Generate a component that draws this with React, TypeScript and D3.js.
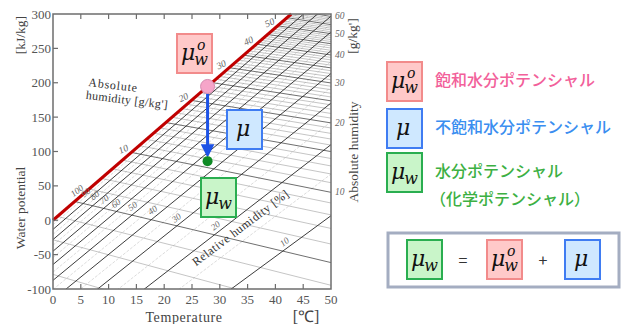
import * as d3 from "d3";

const W = 622;
const H = 324;

// axes
const tempTicks = [0, 5, 10, 15, 20, 25, 30, 35, 40, 45, 50];
const potentialTicks = [-100, -50, 0, 50, 100, 150, 200, 250, 300];
const satSlope = 7; // kJ/kg per degC along the saturation line

// absolute humidity lines [g/kg'] : dew point (start on red line) and value at 50 degC
const ahGrams = [2, 3, 4, 5, 6, 7, 8, 9, 10, 11, 12, 13, 14, 15, 16, 17, 18, 19, 20, 21, 22, 23, 24, 25, 26, 27, 28, 29, 30, 31, 32, 33, 34, 35, 36, 37, 38, 39, 40, 41, 42, 43, 44, 45, 46, 47, 48, 49, 50, 51, 52, 53, 54, 55, 56, 57, 58, 59, 60];
const ahDewPoint = [-8.4, -3.1, 0.8, 3.9, 6.5, 8.7, 10.7, 12.5, 14.1, 15.5, 16.8, 18.1, 19.2, 20.3, 21.4, 22.3, 23.2, 24.1, 24.9, 25.7, 26.5, 27.2, 27.9, 28.6, 29.3, 29.9, 30.5, 31.1, 31.7, 32.2, 32.7, 33.3, 33.8, 34.3, 34.7, 35.2, 35.7, 36.1, 36.6, 37.0, 37.4, 37.8, 38.2, 38.6, 39.0, 39.3, 39.7, 40.1, 40.4, 40.8, 41.1, 41.4, 41.8, 42.1, 42.4, 42.7, 43.0, 43.3, 43.6];
const ahRightEnd = [-197.5, -137.3, -94.6, -61.6, -34.6, -11.9, 7.8, 25.1, 40.6, 54.6, 67.3, 79.0, 89.8, 99.9, 109.3, 118.1, 126.3, 134.2, 141.6, 148.6, 155.3, 161.7, 167.9, 173.7, 179.3, 184.7, 189.9, 194.9, 199.7, 204.4, 208.9, 213.3, 217.5, 221.6, 225.6, 229.4, 233.2, 236.8, 240.4, 243.8, 247.2, 250.5, 253.7, 256.8, 259.9, 262.8, 265.8, 268.6, 271.4, 274.1, 276.8, 279.4, 282.0, 284.5, 287.0, 289.4, 291.8, 294.1, 296.4];
const ahSatLabels = [10, 20, 30, 40, 50];
const ahAxisLabels = [10, 20, 30, 40, 50, 60];

// relative humidity lines [%] : value at 0 degC and at 50 degC
const rhMain = [90, 80, 70, 60, 50, 40, 30, 20, 10];
const rhMainAt0 = [-13.3, -28.1, -45.0, -64.4, -87.4, -115.5, -151.8, -202.9, -290.3];
const rhMainAt50 = [334.3, 316.7, 296.8, 273.8, 246.6, 213.4, 170.5, 110.0, 6.6];
const rhFine = [95, 85, 75, 65, 55, 45, 35, 25, 15];
const rhFineAt0 = [-6.5, -20.5, -36.3, -54.3, -75.4, -100.7, -132.3, -174.8, -239.2];
const rhFineAt50 = [342.4, 325.8, 307.1, 285.8, 260.8, 230.9, 193.4, 143.3, 67.1];
const rhLabels = ["100", "90", "80", "70", "60", "50", "40", "30", "20", "10"];
const rhLabelTemp = [5.0, 6.6, 8.2, 9.9, 12.0, 15.0, 18.6, 22.9, 29.9, 42.3];

// state points
const pointTemp = 27.8;
const waterPotential = 86;

const legendNames = ["飽和水分ポテンシャル", "不飽和水分ポテンシャル", "水分ポテンシャル"];
const legendNote = "（化学ポテンシャル）";

const boxStyle: Record<string, { fill: string; stroke: string }> = {
  o: { fill: "#ffc9c9", stroke: "#f28b8b" },
  m: { fill: "#cfe8ff", stroke: "#3f7cf2" },
  w: { fill: "#c9f5c9", stroke: "#2aae50" },
};
const legendColors = ["#f2609a", "#3a8ef0", "#3cb043"];

const MATH = "'DejaVu Serif', serif";
const SERIF = "'Liberation Serif', 'Times New Roman', serif";
const CJK = "'Noto Sans CJK JP', sans-serif";

function MuBox({ x0, y0, kind }: { x0: number; y0: number; kind: string }) {
  const st = boxStyle[kind];
  return (
    <g>
      <rect x={x0} y={y0} width={35} height={39} fill={st.fill} stroke={st.stroke} strokeWidth={2} />
      <text x={kind === "m" ? x0 + 9 : x0 + 4} y={y0 + 26} fontFamily={MATH} fontStyle="italic" fontSize={22} fill="#111">
        μ
        {kind !== "m" && (
          <tspan fontSize={16} dx={-1} dy={5}>
            w
          </tspan>
        )}
        {kind === "o" && (
          <tspan fontSize={14} dx={-11} dy={-15}>
            o
          </tspan>
        )}
      </text>
    </g>
  );
}

export default function App() {
  const x = d3.scaleLinear().domain([0, 50]).range([53, 331]);
  const y = d3.scaleLinear().domain([-100, 300]).range([289, 14]);
  const line = d3
    .line<[number, number]>()
    .x((d) => x(d[0]))
    .y((d) => y(d[1]));

  const sat300 = 300 / satSlope;
  const clipPts = [
    [0, 0],
    [sat300, 300],
    [50, 300],
    [50, -100],
    [0, -100],
  ]
    .map(([t, m]) => `${x(t)},${y(m)}`)
    .join(" ");

  const px = x(pointTemp);
  const pinkY = y(pointTemp * satSlope);
  const greenY = y(waterPotential);
  const axisCol = "#6d6d6d";

  return (
    <svg width={W} height={H} style={{ position: "absolute", left: 0, top: 0, background: "#fff" }}>
      <defs>
        <clipPath id="unsat">
          <polygon points={clipPts} />
        </clipPath>
        <marker id="arrowhead" viewBox="0 0 10 10" refX={8} refY={5} markerWidth={4.5} markerHeight={4.5} orient="auto">
          <path d="M0,0 L10,5 L0,10 z" fill="#1d52e6" />
        </marker>
      </defs>

      {/* grid */}
      <g clipPath="url(#unsat)" fill="none">
        {rhFine.map((rh, i) => (
          <path key={"rf" + rh} d={line([[0, rhFineAt0[i]], [50, rhFineAt50[i]]]) || ""} stroke="#b8b8b8" strokeWidth={0.5} strokeDasharray="3,1.5" />
        ))}
        {ahGrams.map((g, i) => (
          <path
            key={"ah" + g}
            d={line([[ahDewPoint[i], ahDewPoint[i] * satSlope], [50, ahRightEnd[i]]]) || ""}
            stroke={g % 5 === 0 ? "#4a4a4a" : "#8a8a8a"}
            strokeWidth={g % 5 === 0 ? 0.8 : 0.5}
          />
        ))}
        {rhMain.map((rh, i) => (
          <path key={"rm" + rh} d={line([[0, rhMainAt0[i]], [50, rhMainAt50[i]]]) || ""} stroke="#262626" strokeWidth={0.9} />
        ))}
      </g>

      {/* saturation line */}
      <path d={line([[0, 0], [sat300, 300]]) || ""} stroke="#c00000" strokeWidth={3} fill="none" />

      {/* frame */}
      <rect x={x(0)} y={y(300)} width={x(50) - x(0)} height={y(-100) - y(300)} fill="none" stroke={axisCol} strokeWidth={1.5} />
      {tempTicks.slice(1, -1).map((t) => (
        <g key={"tt" + t} stroke={axisCol} strokeWidth={1.2}>
          <line x1={x(t)} x2={x(t)} y1={y(300)} y2={y(300) + 5} />
          <line x1={x(t)} x2={x(t)} y1={y(-100)} y2={y(-100) - 5} />
        </g>
      ))}
      {potentialTicks.slice(1, -1).map((v) => (
        <line key={"pt" + v} x1={x(0)} x2={x(0) + 5} y1={y(v)} y2={y(v)} stroke={axisCol} strokeWidth={1.2} />
      ))}

      {/* tick labels */}
      <g fontFamily={SERIF} fontSize={13} fill="#555">
        {potentialTicks.map((v) => (
          <text key={"pl" + v} x={x(0) - 2} y={y(v)} textAnchor="end" dominantBaseline="central">
            {v}
          </text>
        ))}
        {tempTicks.map((t) => (
          <text key={"tl" + t} x={x(t)} y={y(-100) + 10} textAnchor="middle" dominantBaseline="central">
            {t}
          </text>
        ))}
      </g>
      <g fontFamily={SERIF} fontStyle="italic" fontSize={9.5} fill="#666">
        {ahAxisLabels.map((g) => (
          <text key={"al" + g} x={x(50) + 4} y={y(ahRightEnd[ahGrams.indexOf(g)])} dominantBaseline="central">
            {g}
          </text>
        ))}
        {ahSatLabels.map((g) => {
          const td = ahDewPoint[ahGrams.indexOf(g)];
          return (
            <text key={"sl" + g} transform={`translate(${x(td) - 8},${y(td * satSlope) - 3}) rotate(-25)`} textAnchor="middle" dominantBaseline="central">
              {g}
            </text>
          );
        })}
        {rhLabels.map((lab, i) => {
          const t = rhLabelTemp[i];
          const at0 = i === 0 ? 0 : rhMainAt0[i - 1];
          const at50 = i === 0 ? 50 * satSlope : rhMainAt50[i - 1];
          const m = at0 + ((at50 - at0) * t) / 50;
          return (
            <text key={"rl" + lab} transform={`translate(${x(t) - 2},${y(m) - 3}) rotate(-38)`} textAnchor="middle" fontSize={9}>
              {lab}
            </text>
          );
        })}
      </g>

      {/* axis titles */}
      <g fontFamily={SERIF} fill="#444" fontSize={13.5}>
        <text transform="translate(25,208) rotate(-90)" textAnchor="middle">Water potential</text>
        <text transform="translate(25,35) rotate(-90)" textAnchor="middle">[kJ/kg]</text>
        <text transform="translate(358,152) rotate(-90)" textAnchor="middle">Absolute humidity</text>
        <text transform="translate(357,36) rotate(-90)" textAnchor="middle">[g/kg']</text>
        <text x={184} y={322} textAnchor="middle" fontSize={14} letterSpacing={0.6}>Temperature</text>
        <text x={306} y={322} textAnchor="middle" fontSize={16}>[℃]</text>
      </g>
      <g fontFamily={SERIF} fill="#333" fontSize={12}>
        <g transform="translate(88,86) rotate(7)">
          <text x={0} y={0} letterSpacing={0.8}>Absolute</text>
          <text x={-1} y={13} letterSpacing={0.3}>humidity [g/kg']</text>
        </g>
        <text transform="translate(243,231) rotate(-37)" textAnchor="middle" letterSpacing={0.5}>Relative humidity [%]</text>
      </g>

      {/* state change */}
      <line x1={px} x2={px} y1={pinkY + 7} y2={greenY - 6} stroke="#1d52e6" strokeWidth={3} markerEnd="url(#arrowhead)" />
      <circle cx={px} cy={pinkY} r={7} fill="#f6a5c9" stroke="#d58bb0" strokeWidth={1} />
      <circle cx={px} cy={greenY} r={5} fill="#0f8a25" />
      <MuBox x0={177} y0={34} kind="o" />
      <MuBox x0={227} y0={110} kind="m" />
      <MuBox x0={201} y0={178} kind="w" />

      {/* legend */}
      <MuBox x0={387} y0={62} kind="o" />
      <MuBox x0={387} y0={109} kind="m" />
      <MuBox x0={387} y0={153} kind="w" />
      <g fontFamily={CJK} fontSize={16} fontWeight={500}>
        <text x={435} y={86} fill={legendColors[0]}>{legendNames[0]}</text>
        <text x={435} y={133} fill={legendColors[1]}>{legendNames[1]}</text>
        <text x={435} y={177} fill={legendColors[2]}>{legendNames[2]}</text>
        <text x={430} y={205} fill={legendColors[2]}>{legendNote}</text>
      </g>

      {/* equation */}
      <rect x={388} y={233} width={231} height={54} fill="#fff" stroke="#a4adc1" strokeWidth={3} />
      <MuBox x0={407} y0={240} kind="w" />
      <text x={463} y={266} textAnchor="middle" fontFamily={CJK} fontSize={16} fill="#333">=</text>
      <MuBox x0={487} y0={240} kind="o" />
      <text x={543} y={266} textAnchor="middle" fontFamily={CJK} fontSize={16} fill="#333">+</text>
      <MuBox x0={565} y0={240} kind="m" />
    </svg>
  );
}
